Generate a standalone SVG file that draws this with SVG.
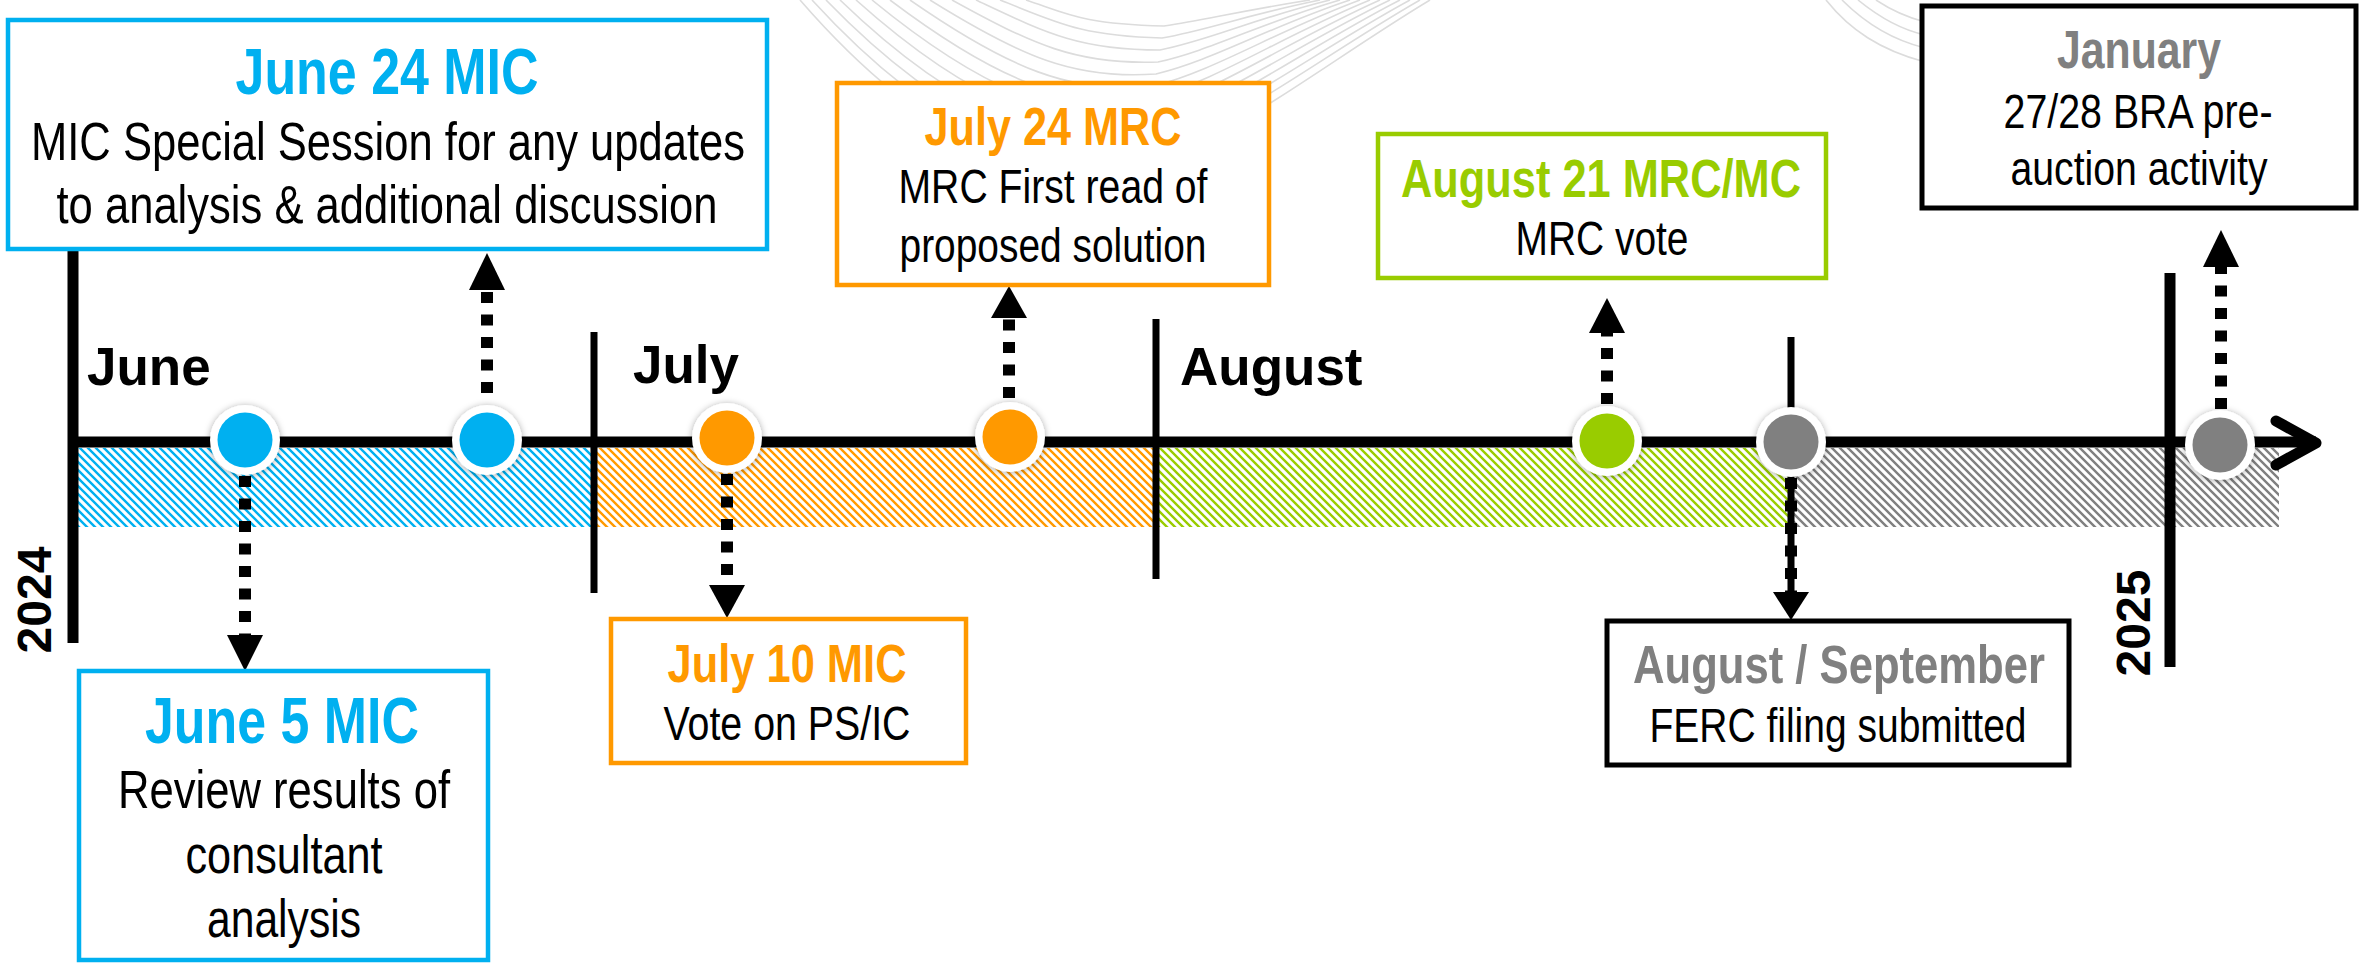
<svg xmlns="http://www.w3.org/2000/svg" width="2366" height="963" viewBox="0 0 2366 963">
<style>
.box{fill:#fff;stroke-width:4.5}
.kbox{fill:#fff;stroke:#000;stroke-width:5}
.t{font-family:"Liberation Sans Narrow","Liberation Sans",Arial,sans-serif;text-anchor:middle}
.tb{font-weight:bold}
.body{fill:#000}
.month{font-family:"Liberation Sans",Arial,sans-serif;font-weight:bold;font-size:53px;fill:#000}
.year{font-family:"Liberation Sans",Arial,sans-serif;font-weight:bold;font-size:48px;fill:#000;text-anchor:middle}
.dash{stroke:#000;stroke-width:12;stroke-dasharray:11 11.5;fill:none}
.swirl{fill:none;stroke:#dcdcdc;stroke-width:1.6}
</style>
<defs>
<pattern id="hB" patternUnits="userSpaceOnUse" width="8" height="8"><path d="M-4,4 L4,12 M0,0 L8,8 M4,-4 L12,4" stroke="#00B0F0" stroke-width="2.4"/></pattern>
<pattern id="hO" patternUnits="userSpaceOnUse" width="8" height="8"><path d="M-4,4 L4,12 M0,0 L8,8 M4,-4 L12,4" stroke="#FF9900" stroke-width="2.4"/></pattern>
<pattern id="hG" patternUnits="userSpaceOnUse" width="8" height="8"><path d="M-4,4 L4,12 M0,0 L8,8 M4,-4 L12,4" stroke="#99CC00" stroke-width="2.4"/></pattern>
<pattern id="hK" patternUnits="userSpaceOnUse" width="8" height="8"><path d="M-4,4 L4,12 M0,0 L8,8 M4,-4 L12,4" stroke="#808080" stroke-width="2.4"/></pattern>
<filter id="sh" x="-40%" y="-40%" width="180%" height="180%"><feDropShadow dx="0" dy="1" stdDeviation="3.5" flood-color="#000" flood-opacity="0.35"/></filter>
<g id="dot"><circle r="35" fill="#fff" filter="url(#sh)"/></g>
</defs>
<rect width="2366" height="963" fill="#fff"/>

<!-- background swirl -->
<g id="swirl">
<path class="swirl" d="M800,0 C930,150 1060,200 1140,170 C1230,140 1330,60 1430,0"/>
<path class="swirl" d="M812,0 C940,140 1060,185 1142,158 C1228,130 1322,56 1420,0"/>
<path class="swirl" d="M826,0 C950,128 1062,170 1144,146 C1226,120 1314,52 1410,0"/>
<path class="swirl" d="M840,0 C960,116 1064,155 1146,134 C1224,110 1306,48 1400,0"/>
<path class="swirl" d="M856,0 C972,104 1066,140 1148,122 C1222,100 1298,44 1390,0"/>
<path class="swirl" d="M872,0 C984,92 1068,125 1150,110 C1220,90 1290,40 1380,0"/>
<path class="swirl" d="M890,0 C996,80 1070,110 1152,98 C1218,80 1282,36 1370,0"/>
<path class="swirl" d="M910,0 C1008,68 1072,95 1154,86 C1216,70 1274,32 1360,0"/>
<path class="swirl" d="M930,0 C1020,56 1074,80 1156,74 C1214,60 1266,28 1350,0"/>
<path class="swirl" d="M952,0 C1032,44 1076,65 1158,62 C1212,50 1258,24 1340,0"/>
<path class="swirl" d="M976,0 C1044,32 1078,50 1160,50 C1210,40 1250,20 1330,0"/>
<path class="swirl" d="M1000,0 C1056,22 1080,36 1162,38 C1208,30 1242,16 1320,0"/>
<path class="swirl" d="M1026,0 C1068,14 1082,24 1164,26 C1206,20 1234,12 1310,0"/>
<path class="swirl" d="M1826,0 C1850,30 1880,50 1925,62"/>
<path class="swirl" d="M1842,0 C1866,24 1892,40 1925,48"/>
<path class="swirl" d="M1858,0 C1880,18 1902,30 1925,35"/>
<path class="swirl" d="M1876,0 C1894,12 1910,18 1925,22"/>
</g>

<!-- hatched bands -->
<g id="bands">
<rect x="78" y="448" width="516" height="79" fill="url(#hB)"/>
<rect x="594" y="448" width="562" height="79" fill="url(#hO)"/>
<rect x="1156" y="448" width="634" height="79" fill="url(#hG)"/>
<rect x="1790" y="448" width="489" height="79" fill="url(#hK)"/>
</g>

<!-- timeline axis and ticks -->
<g id="axis" stroke="#000" fill="none">
<line x1="73" y1="240" x2="73" y2="643" stroke-width="11"/>
<line x1="68" y1="442" x2="2316" y2="442" stroke-width="11"/>
<polyline points="2276,421 2316,443 2276,465" stroke-width="11" stroke-linecap="round" stroke-linejoin="round"/>
<line x1="594" y1="332" x2="594" y2="593" stroke-width="7"/>
<line x1="1156" y1="319" x2="1156" y2="579" stroke-width="7"/>
<line x1="1791" y1="337" x2="1791" y2="600" stroke-width="7"/>
<line x1="2170" y1="273" x2="2170" y2="667" stroke-width="11"/>
</g>

<text class="month" x="87" y="385">June</text>
<text class="month" x="633" y="383">July</text>
<text class="month" x="1180" y="385">August</text>
<text class="year" transform="translate(51,600) rotate(-90)">2024</text>
<text class="year" transform="translate(2150,623) rotate(-90)">2025</text>

<!-- connectors -->
<g id="connectors">
<line class="dash" x1="487" y1="393" x2="487" y2="289"/>
<polygon points="487,253 469,290 505,290" fill="#000"/>
<line class="dash" x1="245" y1="476" x2="245" y2="636"/>
<polygon points="245,671 227,635 263,635" fill="#000"/>
<line class="dash" x1="727" y1="474" x2="727" y2="586"/>
<polygon points="727,618 709,585 745,585" fill="#000"/>
<line class="dash" x1="1009" y1="398" x2="1009" y2="317"/>
<polygon points="1009,286 991,318 1027,318" fill="#000"/>
<line class="dash" x1="1607" y1="404" x2="1607" y2="332"/>
<polygon points="1607,298 1589,333 1625,333" fill="#000"/>
<line class="dash" x1="1791" y1="478" x2="1791" y2="593"/>
<polygon points="1791,620 1773,592 1809,592" fill="#000"/>
<line class="dash" x1="2221" y1="409" x2="2221" y2="266"/>
<polygon points="2221,230 2203,267 2239,267" fill="#000"/>
</g>

<!-- milestones -->
<g id="m-jun5"><use href="#dot" x="245" y="440"/><circle cx="245" cy="440" r="27.5" fill="#00B0F0"/></g>
<g id="m-jun24"><use href="#dot" x="487" y="440"/><circle cx="487" cy="440" r="27.5" fill="#00B0F0"/></g>
<g id="m-jul10"><use href="#dot" x="727" y="438"/><circle cx="727" cy="438" r="27.5" fill="#FF9900"/></g>
<g id="m-jul24"><use href="#dot" x="1010" y="437"/><circle cx="1010" cy="437" r="27.5" fill="#FF9900"/></g>
<g id="m-aug21"><use href="#dot" x="1607" y="441"/><circle cx="1607" cy="441" r="27.5" fill="#99CC00"/></g>
<g id="m-augsep"><use href="#dot" x="1791" y="442"/><circle cx="1791" cy="442" r="27.5" fill="#808080"/></g>
<g id="m-jan"><use href="#dot" x="2220" y="445"/><circle cx="2220" cy="445" r="27.5" fill="#808080"/></g>

<!-- boxes -->
<g id="n-jun24">
<rect class="box" x="8" y="20" width="759" height="229" stroke="#00B0F0"/>
<text class="t tb" x="387" y="94" font-size="64" fill="#00B0F0" textLength="303" lengthAdjust="spacingAndGlyphs">June 24 MIC</text>
<text class="t body" x="388" y="160" font-size="53" textLength="714" lengthAdjust="spacingAndGlyphs">MIC Special Session for any updates</text>
<text class="t body" x="387" y="223" font-size="53" textLength="661" lengthAdjust="spacingAndGlyphs">to analysis &amp; additional discussion</text>
</g>
<g id="n-jun5">
<rect class="box" x="79" y="671" width="409" height="289" stroke="#00B0F0"/>
<text class="t tb" x="282" y="743" font-size="64" fill="#00B0F0" textLength="274" lengthAdjust="spacingAndGlyphs">June 5 MIC</text>
<text class="t body" x="284" y="808" font-size="53" textLength="332" lengthAdjust="spacingAndGlyphs">Review results of</text>
<text class="t body" x="284" y="873" font-size="53" textLength="197" lengthAdjust="spacingAndGlyphs">consultant</text>
<text class="t body" x="284" y="937" font-size="53" textLength="154" lengthAdjust="spacingAndGlyphs">analysis</text>
</g>
<g id="n-jul10">
<rect class="box" x="611" y="619" width="355" height="144" stroke="#FF9900"/>
<text class="t tb" x="787" y="682" font-size="53" fill="#FF9900" textLength="239" lengthAdjust="spacingAndGlyphs">July 10 MIC</text>
<text class="t body" x="787" y="740" font-size="48" textLength="247" lengthAdjust="spacingAndGlyphs">Vote on PS/IC</text>
</g>
<g id="n-jul24">
<rect class="box" x="837" y="83" width="432" height="202" stroke="#FF9900"/>
<text class="t tb" x="1053" y="145" font-size="53" fill="#FF9900" textLength="257" lengthAdjust="spacingAndGlyphs">July 24 MRC</text>
<text class="t body" x="1053" y="203" font-size="48" textLength="309" lengthAdjust="spacingAndGlyphs">MRC First read of</text>
<text class="t body" x="1053" y="262" font-size="48" textLength="307" lengthAdjust="spacingAndGlyphs">proposed solution</text>
</g>
<g id="n-aug21">
<rect class="box" x="1378" y="134" width="448" height="144" stroke="#99CC00"/>
<text class="t tb" x="1601" y="197" font-size="53" fill="#99CC00" textLength="400" lengthAdjust="spacingAndGlyphs">August 21 MRC/MC</text>
<text class="t body" x="1602" y="255" font-size="48" textLength="173" lengthAdjust="spacingAndGlyphs">MRC vote</text>
</g>
<g id="n-augsep">
<rect class="kbox" x="1607" y="621" width="462" height="144"/>
<text class="t tb" x="1839" y="683" font-size="53" fill="#808080" textLength="412" lengthAdjust="spacingAndGlyphs">August / September</text>
<text class="t body" x="1838" y="742" font-size="48" textLength="377" lengthAdjust="spacingAndGlyphs">FERC filing submitted</text>
</g>
<g id="n-jan">
<rect class="kbox" x="1922" y="6" width="434" height="202"/>
<text class="t tb" x="2139" y="68" font-size="53" fill="#808080" textLength="164" lengthAdjust="spacingAndGlyphs">January</text>
<text class="t body" x="2138" y="128" font-size="48" textLength="269" lengthAdjust="spacingAndGlyphs">27/28 BRA pre-</text>
<text class="t body" x="2139" y="185" font-size="48" textLength="257" lengthAdjust="spacingAndGlyphs">auction activity</text>
</g>
</svg>
